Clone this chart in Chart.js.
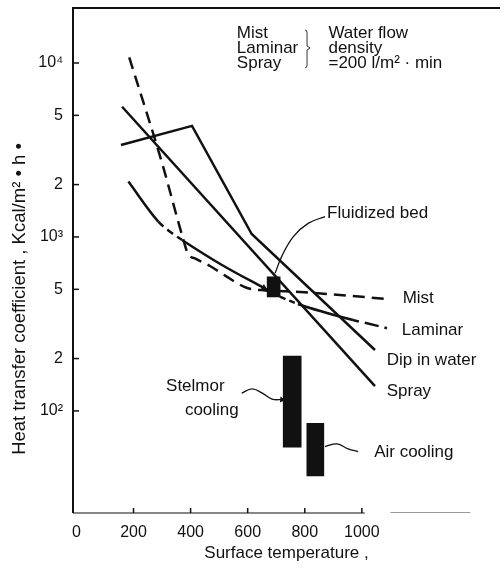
<!DOCTYPE html>
<html><head><meta charset="utf-8">
<script src="https://cdn.jsdelivr.net/npm/chart.js@4.4.1/dist/chart.umd.min.js"></script>
<style>html,body{margin:0;padding:0;background:#fff}canvas{display:block}</style>
</head><body>
<canvas id="c" width="504" height="568"></canvas>
<script>
// ---- tick values / labels ----
const xTicks = [0, 200, 400, 600, 800, 1000];
const yTicks = [100, 200, 500, 1000, 2000, 5000, 10000];
const yTickLabels = ['10²', '2', '5', '10³', '2', '5', '10⁴'];

// ---- series (surface temperature, heat transfer coefficient) ----
const sprayT = [160, 1046];
const sprayH = [5600, 139];
const dipT = [156, 405, 614, 1046];
const dipH = [3380, 4350, 1040, 224];
const mistT = [185, 300, 373, 391, 419, 468, 528, 598, 661, 784, 923, 1081];
const mistH = [10780, 2660, 986, 798, 748, 681, 589, 509, 493, 483, 464, 441];
const laminarT = [182, 287, 328, 370, 510, 657, 713, 776, 969, 1011, 1088];
const laminarH = [2080, 1225, 1072, 961, 690, 509, 454, 412, 333, 321, 299];

// ---- ranges (blocks) ----
const blockNames = ['Fluidized bed', 'Stelmor cooling', 'Air cooling'];
const blockT = [691, 756, 837];
const blockLow = [452, 61.8, 42.3];
const blockHigh = [590, 207, 84.9];

// ---- leader lines ----
const fluidLeaderT = [696, 719, 760, 813, 871];
const fluidLeaderH = [618, 771, 1005, 1200, 1309];
const stelmorLeaderT = [579, 615, 650, 685, 720];
const stelmorLeaderH = [126.5, 134, 127, 117, 116];
const airLeaderT = [871, 913, 952, 987];
const airLeaderH = [62.4, 64.6, 60.5, 58.4];

const FONT = "'Liberation Sans', Arial, Helvetica, sans-serif";
const INK = '#111';

// annotation text anchors (in data units)
const labels = [
  {text: 'Mist', t: 1143, h: 446},
  {text: 'Laminar', t: 1140, h: 292},
  {text: 'Dip in water', t: 1087, h: 196},
  {text: 'Spray', t: 1087, h: 129},
  {text: 'Fluidized bed', t: 878, h: 1374},
  {text: 'Stelmor', t: 314, h: 139},
  {text: 'cooling', t: 380, h: 101},
  {text: 'Air cooling', t: 1043, h: 58.1},
  {text: 'Mist', t: 562, h: 14870},
  {text: 'Laminar', t: 562, h: 12200},
  {text: 'Spray', t: 562, h: 10000},
  {text: 'Water flow', t: 883, h: 14870},
  {text: 'density', t: 883, h: 12200},
  {text: '=200 l/m² · min', t: 883, h: 10000}
];
const brace = {t: 808, hTop: 15500, hMid: 12200, hBot: 9360};

const laminarDash = [[], [7, 5], [7, 5], [], [], [5, 4], [6, 4], [], [6, 6], [14, 6]];

function pts(ts, hs) { return ts.map((t, i) => ({x: t, y: hs[i]})); }

const lineBase = {type: 'line', borderColor: INK, borderWidth: 2.5, pointRadius: 0, fill: false, tension: 0};
const leaderBase = {type: 'line', borderColor: INK, borderWidth: 1.3, pointRadius: 0, fill: false, tension: 0.4};

const decor = {
  id: 'decor',
  afterDraw(chart) {
    const ctx = chart.ctx, xs = chart.scales.x, ys = chart.scales.y, a = chart.chartArea;
    const X = v => xs.getPixelForValue(v), Y = v => ys.getPixelForValue(v);
    ctx.save();
    ctx.strokeStyle = INK; ctx.fillStyle = INK;
    // frame
    ctx.lineWidth = 2;
    ctx.beginPath(); ctx.moveTo(a.left, a.bottom); ctx.lineTo(a.left, a.top); ctx.lineTo(a.right, a.top); ctx.stroke();
    ctx.lineWidth = 1.2;
    ctx.beginPath(); ctx.moveTo(a.left, a.bottom); ctx.lineTo(X(1010), a.bottom); ctx.stroke();
    ctx.strokeStyle = '#999'; ctx.lineWidth = 1;
    ctx.beginPath(); ctx.moveTo(X(1100), a.bottom - 0.5); ctx.lineTo(X(1380), a.bottom - 0.5); ctx.stroke();
    ctx.strokeStyle = INK;
    // inward ticks
    ctx.lineWidth = 1.5;
    yTicks.forEach(v => { const y = Y(v); ctx.beginPath(); ctx.moveTo(a.left, y); ctx.lineTo(a.left + 6, y); ctx.stroke(); });
    xTicks.slice(1).forEach(v => { const x = X(v); ctx.beginPath(); ctx.moveTo(x, a.bottom); ctx.lineTo(x, a.bottom - 5); ctx.stroke(); });
    // labels
    ctx.font = '17px ' + FONT;
    ctx.textAlign = 'left'; ctx.textBaseline = 'middle';
    labels.forEach(l => ctx.fillText(l.text, X(l.t), Y(l.h)));
    // brace
    const xb = X(brace.t), y1 = Y(brace.hTop), ym = Y(brace.hMid), y3 = Y(brace.hBot);
    ctx.lineWidth = 1; ctx.strokeStyle = '#333';
    ctx.beginPath();
    ctx.moveTo(xb - 2, y1); ctx.quadraticCurveTo(xb, y1, xb, y1 + 3);
    ctx.lineTo(xb, ym - 2); ctx.lineTo(xb + 3, ym); ctx.lineTo(xb, ym + 2);
    ctx.lineTo(xb, y3 - 3); ctx.quadraticCurveTo(xb, y3, xb - 2, y3);
    ctx.stroke();
    // y title
    ctx.translate(20, (Y(10000) + Y(100)) / 2 + 62);
    ctx.rotate(-Math.PI / 2);
    ctx.textAlign = 'center';
    ctx.fillStyle = INK;
    ctx.font = '18.5px ' + FONT;
    ctx.fillText('Heat transfer coefficient , Kcal/m² • h •', 0, 0);
    ctx.restore();
  }
};

function noPad(s) { s.paddingTop = 0; s.paddingBottom = 0; s.paddingLeft = 0; s.paddingRight = 0; }

new Chart(document.getElementById('c'), {
  type: 'line',
  data: {
    datasets: [
      {...lineBase, label: 'Spray', data: pts(sprayT, sprayH)},
      {...lineBase, label: 'Dip in water', data: pts(dipT, dipH)},
      {...lineBase, label: 'Mist', data: pts(mistT, mistH), borderDash: [12, 7], cubicInterpolationMode: 'monotone'},
      {...lineBase, label: 'Laminar', data: pts(laminarT, laminarH), cubicInterpolationMode: 'monotone',
        segment: {borderDash: c => laminarDash[c.p0DataIndex]},
        pointRadius: c => c.dataIndex === 5 ? 4 : 0, pointStyle: 'triangle', rotation: 119,
        pointBackgroundColor: INK, pointBorderWidth: 0},
      {...leaderBase, label: 'fl', data: pts(fluidLeaderT, fluidLeaderH)},
      {...leaderBase, label: 'sl', data: pts(stelmorLeaderT, stelmorLeaderH),
        pointRadius: c => c.dataIndex === stelmorLeaderT.length - 1 ? 3.5 : 0, pointStyle: 'triangle', rotation: 95,
        pointBackgroundColor: INK, pointBorderWidth: 0},
      {...leaderBase, label: 'al', data: pts(airLeaderT, airLeaderH)},
      {type: 'bar', label: blockNames[0], data: [{x: blockT[0], y: [blockLow[0], blockHigh[0]]}], backgroundColor: INK, barThickness: 13, grouped: false},
      {type: 'bar', label: blockNames[1], data: [{x: blockT[1], y: [blockLow[1], blockHigh[1]]}], backgroundColor: INK, barThickness: 18, grouped: false},
      {type: 'bar', label: blockNames[2], data: [{x: blockT[2], y: [blockLow[2], blockHigh[2]]}], backgroundColor: INK, barThickness: 17, grouped: false}
    ]
  },
  options: {
    responsive: false, animation: false, devicePixelRatio: 1,
    layout: {padding: {top: 8, right: 4, left: 0, bottom: 0}},
    plugins: {legend: {display: false}, tooltip: {enabled: false}},
    scales: {
      x: {
        type: 'linear', min: -12, max: 1484, offset: false,
        grid: {display: false, drawTicks: false}, border: {display: false},
        afterBuildTicks: s => { s.ticks = xTicks.map(v => ({value: v})); },
        afterFit: s => { s.height = 55; noPad(s); },
        ticks: {autoSkip: false, maxRotation: 0, padding: 10, color: INK, font: {size: 16, family: FONT},
          callback: v => String(v)},
        title: {display: true, text: 'Surface temperature ,', color: INK, font: {size: 17, family: FONT}, padding: {top: 0, bottom: 4}}
      },
      y: {
        type: 'logarithmic', min: 25.9, max: 20700,
        grid: {display: false, drawTicks: false}, border: {display: false},
        afterBuildTicks: s => { s.ticks = yTicks.map(v => ({value: v})); },
        afterFit: s => { s.width = 73; noPad(s); },
        ticks: {autoSkip: false, padding: 10, color: INK, font: {size: 16, family: FONT},
          callback: v => { const i = yTicks.indexOf(v); return i >= 0 ? yTickLabels[i] : ''; }}
      }
    }
  },
  plugins: [decor]
});
</script>
</body></html>
